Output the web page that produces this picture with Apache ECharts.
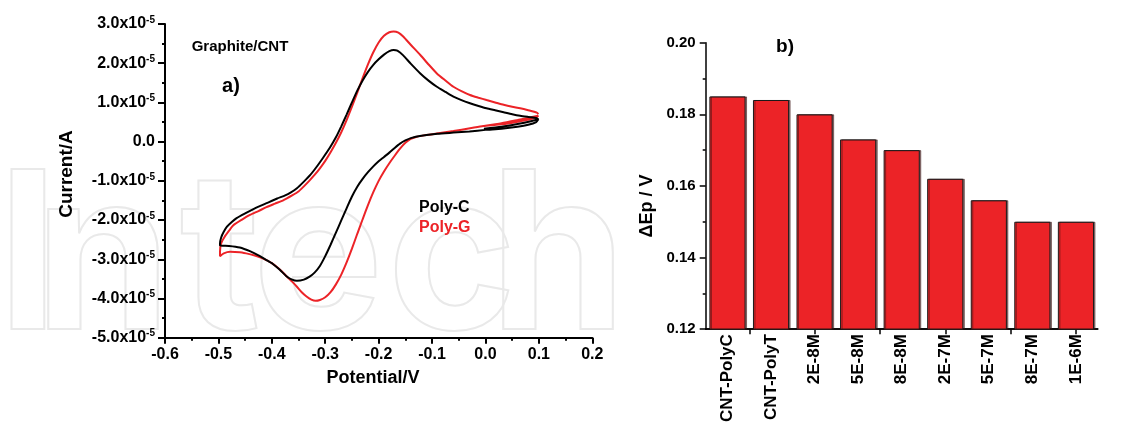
<!DOCTYPE html>
<html>
<head>
<meta charset="utf-8">
<script src="https://cdn.jsdelivr.net/npm/echarts@6/dist/echarts.min.js"></script>
<style>
  html, body { margin: 0; padding: 0; background: #fff; }
  #chart { width: 1138px; height: 425px; }
</style>
</head>
<body>
<div id="chart"></div>
<script>
// ---- a) Cyclic voltammograms on Graphite/CNT (potential in V, current in units of 1e-5 A) ----
// scan order: start near 0 V -> +0.1 V -> -0.5 V (cathodic branch) -> +0.1 V (anodic branch)
const polyC_E = [
  -0.003, 0.03, 0.06, 0.085, 0.099,
  0.095, 0.08, 0.06, 0.03, 0.0, -0.03, -0.06, -0.09, -0.12, -0.14, -0.15, -0.16, -0.17, -0.18,
  -0.19, -0.20, -0.21, -0.22, -0.23, -0.24, -0.25, -0.26, -0.27, -0.28, -0.29, -0.30, -0.31,
  -0.32, -0.33, -0.34, -0.353, -0.362, -0.372, -0.385, -0.398, -0.41, -0.425, -0.44, -0.46,
  -0.48, -0.497,
  -0.497, -0.495, -0.49, -0.484, -0.475, -0.466, -0.45, -0.43, -0.41, -0.39, -0.375, -0.365,
  -0.353, -0.34, -0.328, -0.316, -0.304, -0.292, -0.28, -0.27, -0.26, -0.25, -0.24, -0.23,
  -0.22, -0.21, -0.20, -0.19, -0.18, -0.172, -0.165, -0.154, -0.14, -0.122, -0.106, -0.091,
  -0.075, -0.06, -0.045, -0.029, -0.013, 0.002, 0.018, 0.034, 0.05, 0.065, 0.08, 0.096, 0.099
];
const polyC_I = [
  0.33, 0.38, 0.45, 0.52, 0.57,
  0.50, 0.43, 0.38, 0.33, 0.30, 0.26, 0.23, 0.20, 0.15, 0.09, 0.03, -0.05, -0.16, -0.28,
  -0.39, -0.50, -0.63, -0.78, -0.95, -1.15, -1.40, -1.70, -2.01, -2.32, -2.63, -2.92, -3.17,
  -3.34, -3.45, -3.52, -3.55, -3.52, -3.44, -3.27, -3.12, -3.02, -2.90, -2.80, -2.70,
  -2.66, -2.65,
  -2.60, -2.45, -2.30, -2.17, -2.05, -1.95, -1.83, -1.69, -1.57, -1.45, -1.37, -1.30,
  -1.19, -1.02, -0.85, -0.64, -0.41, -0.17, 0.11, 0.39, 0.69, 1.00, 1.30, 1.56,
  1.78, 1.96, 2.10, 2.22, 2.31, 2.34, 2.32, 2.20, 1.99, 1.74, 1.55, 1.40,
  1.27, 1.15, 1.06, 0.98, 0.91, 0.85, 0.80, 0.75, 0.70, 0.66, 0.63, 0.60, 0.57
];
const polyG_E = [
  -0.003, 0.03, 0.06, 0.085, 0.099,
  0.095, 0.084, 0.065, 0.046, 0.02, -0.004, -0.029, -0.06, -0.091, -0.115, -0.13, -0.14, -0.15,
  -0.16, -0.17, -0.18, -0.19, -0.20, -0.21, -0.22, -0.23, -0.24, -0.25, -0.26, -0.27, -0.28,
  -0.29, -0.30, -0.31, -0.318, -0.326, -0.335, -0.344, -0.353, -0.362, -0.372, -0.381, -0.391,
  -0.40, -0.41, -0.422, -0.435, -0.448, -0.46, -0.478, -0.49, -0.497,
  -0.497, -0.495, -0.488, -0.48, -0.472, -0.455, -0.441, -0.425, -0.41, -0.394, -0.378, -0.362,
  -0.35, -0.34, -0.33, -0.32, -0.31, -0.30, -0.29, -0.28, -0.27, -0.26, -0.25, -0.24,
  -0.23, -0.22, -0.21, -0.20, -0.19, -0.18, -0.172, -0.163, -0.154, -0.14, -0.122, -0.106,
  -0.091, -0.075, -0.06, -0.045, -0.029, -0.013, 0.002, 0.018, 0.034, 0.05, 0.065, 0.08,
  0.096, 0.099
];
const polyG_I = [
  0.40, 0.47, 0.55, 0.62, 0.66,
  0.62, 0.57, 0.52, 0.47, 0.43, 0.40, 0.34, 0.27, 0.21, 0.16, 0.12, 0.07, -0.03,
  -0.18, -0.36, -0.55, -0.76, -1.00, -1.29, -1.62, -1.98, -2.35, -2.73, -3.08, -3.39, -3.64,
  -3.84, -3.97, -4.04, -4.06, -4.03, -3.95, -3.84, -3.70, -3.57, -3.44, -3.31, -3.19,
  -3.10, -3.02, -2.95, -2.89, -2.85, -2.82, -2.81, -2.85, -2.92,
  -2.80, -2.60, -2.42, -2.27, -2.13, -1.98, -1.87, -1.77, -1.67, -1.58, -1.49, -1.37,
  -1.27, -1.14, -1.00, -0.85, -0.68, -0.49, -0.27, -0.03, 0.24, 0.55, 0.89, 1.25,
  1.62, 1.97, 2.28, 2.53, 2.70, 2.79, 2.81, 2.78, 2.68, 2.47, 2.21, 1.96,
  1.74, 1.56, 1.40, 1.29, 1.19, 1.12, 1.06, 1.00, 0.94, 0.89, 0.85, 0.80,
  0.74, 0.70
];

// ---- b) Peak separation for each electrode / concentration ----
const barCategories = ['CNT-PolyC', 'CNT-PolyT', '2E-8M', '5E-8M', '8E-8M', '2E-7M', '5E-7M', '8E-7M', '1E-6M'];
const deltaEp = [0.185, 0.184, 0.180, 0.173, 0.170, 0.162, 0.156, 0.150, 0.150];

const FONT = "'Liberation Sans', Arial, Helvetica, sans-serif";
const RED = '#ec2327';

function pairs(xs, ys) { return xs.map((x, i) => [x, ys[i]]); }

function label(text, x, y, size, color, rotation) {
  return {
    type: 'text', x: x, y: y, rotation: rotation || 0, z: 50,
    style: {
      text: text, x: 0, y: 0, fill: color || '#000',
      font: 'bold ' + size + 'px ' + FONT,
      textAlign: 'center', textVerticalAlign: 'middle',
      align: 'center', verticalAlign: 'middle'
    }
  };
}

// faint outlined publisher mark behind the left panel
const markLetters = [['I', 28], ['n', 103], ['t', 220], ['e', 318], ['c', 452], ['h', 558]];
const mark = markLetters.map(([ch, x]) => ({
  type: 'text', x: x, y: 263, z: -10, silent: true,
  style: {
    text: ch, x: 0, y: 0, fill: 'rgba(255,255,255,0)', stroke: '#e9e9e9', lineWidth: 2,
    font: 'bold 220px Inter, ' + FONT,
    textAlign: 'center', textVerticalAlign: 'middle', align: 'center', verticalAlign: 'middle'
  }
}));

const chart = echarts.init(document.getElementById('chart'), null, { renderer: 'canvas' });

const tickLabel = { fontFamily: FONT, fontWeight: 'bold', color: '#000' };

chart.setOption({
  backgroundColor: '#fff',
  animation: false,
  grid: [
    { left: 165, top: 24, width: 427.3, height: 313.7 },
    { left: 705.7, top: 42.7, width: 392, height: 286.6 }
  ],
  legend: {
    orient: 'vertical', left: 419, top: 198, padding: 0, itemGap: 0,
    itemWidth: 0, itemHeight: 0, icon: 'rect', selectedMode: false,
    textStyle: { fontFamily: FONT, fontWeight: 'bold', fontSize: 16, lineHeight: 20, padding: [0, 0, 0, -5] },
    data: [
      { name: 'Poly-C', textStyle: { color: '#000' } },
      { name: 'Poly-G', textStyle: { color: RED } }
    ]
  },
  xAxis: [
    {
      type: 'value', gridIndex: 0, min: -0.6, max: 0.2, interval: 0.1,
      axisLine: { show: true, onZero: false, lineStyle: { color: '#000', width: 2 } },
      axisTick: { show: true, length: 6, lineStyle: { color: '#000', width: 2 } },
      minorTick: { show: true, splitNumber: 2, length: 3, lineStyle: { color: '#000', width: 2 } },
      splitLine: { show: false },
      axisLabel: Object.assign({ fontSize: 16, margin: 9, formatter: v => v.toFixed(1) }, tickLabel)
    },
    {
      type: 'category', gridIndex: 1, data: barCategories, boundaryGap: true,
      axisLine: { show: true, lineStyle: { color: '#000', width: 1.5 } },
      axisTick: { show: false },
      axisLabel: Object.assign({ fontSize: 17, rotate: 90, margin: 5, interval: 0 }, tickLabel)
    },
    {
      type: 'value', gridIndex: 1, min: 0, max: 9, position: 'bottom',
      axisLine: { show: true, lineStyle: { color: '#000', width: 1.5 } },
      axisTick: { show: true, length: 5, customValues: [1, 2.5, 4, 5.5, 7, 8.5], lineStyle: { color: '#000', width: 1.5 } },
      axisLabel: { show: false },
      splitLine: { show: false }
    }
  ],
  yAxis: [
    {
      type: 'value', gridIndex: 0, min: -5, max: 3, interval: 1,
      axisLine: { show: true, onZero: false, lineStyle: { color: '#000', width: 2 } },
      axisTick: { show: true, length: 7, lineStyle: { color: '#000', width: 2 } },
      minorTick: { show: true, splitNumber: 2, length: 3, lineStyle: { color: '#000', width: 2 } },
      splitLine: { show: false },
      axisLabel: {
        margin: 10,
        formatter: v => (v === 0 ? '{m|0.0}' : '{m|' + v.toFixed(1) + 'x10}{s|-5}'),
        rich: {
          m: { fontFamily: FONT, fontWeight: 'bold', fontSize: 16, lineHeight: 18, color: '#000' },
          s: { fontFamily: FONT, fontWeight: 'bold', fontSize: 10, lineHeight: 12, verticalAlign: 'top', color: '#000' }
        }
      }
    },
    {
      type: 'value', gridIndex: 1, min: 0.12, max: 0.2, interval: 0.02,
      axisLine: { show: true, lineStyle: { color: '#000', width: 1.5 } },
      axisTick: { show: true, length: 6, lineStyle: { color: '#000', width: 1.5 } },
      minorTick: { show: true, splitNumber: 2, length: 3, lineStyle: { color: '#000', width: 1.5 } },
      splitLine: { show: false },
      axisLabel: Object.assign({ fontSize: 15, margin: 10, formatter: v => v.toFixed(2) }, tickLabel)
    }
  ],
  series: [
    {
      name: 'Poly-G', type: 'line', xAxisIndex: 0, yAxisIndex: 0,
      data: pairs(polyG_E, polyG_I), showSymbol: false, smooth: 0.2,
      lineStyle: { color: RED, width: 2 }, itemStyle: { color: RED }, z: 3
    },
    {
      name: 'Poly-C', type: 'line', xAxisIndex: 0, yAxisIndex: 0,
      data: pairs(polyC_E, polyC_I), showSymbol: false, smooth: 0.2,
      lineStyle: { color: '#000', width: 2 }, itemStyle: { color: '#000' }, z: 4
    },
    {
      name: 'ΔEp', type: 'bar', xAxisIndex: 1, yAxisIndex: 1,
      data: deltaEp, barCategoryGap: '17%',
      itemStyle: {
        color: RED, borderColor: '#1a1a1a', borderWidth: 1,
        shadowColor: 'rgba(60,20,20,0.55)', shadowOffsetX: 1.5, shadowOffsetY: 0, shadowBlur: 0
      }
    }
  ],
  graphic: mark.concat([
    label('Graphite/CNT', 240, 46.5, 15, '#000'),
    label('a)', 231, 86, 20, '#000'),
    label('b)', 785, 46.5, 19, '#000'),
    label('Current/A', 67, 174, 19, '#000', Math.PI / 2),
    label('Potential/V', 373, 378, 18, '#000'),
    label('ΔEp / V', 647, 206, 18, '#000', Math.PI / 2)
  ])
});
</script>
</body>
</html>
